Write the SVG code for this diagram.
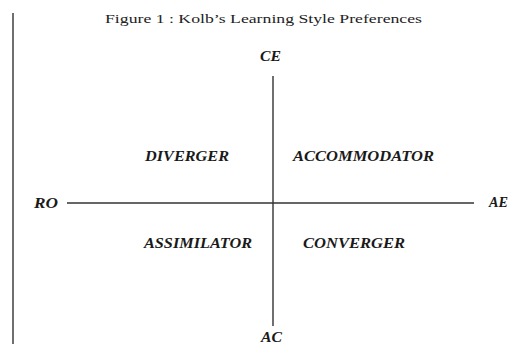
<svg xmlns="http://www.w3.org/2000/svg" width="515" height="344" viewBox="0 0 515 344">
<style>
.t{font-family:"Liberation Serif","Times New Roman",serif;fill:#222}
.lbl{font-family:"Liberation Serif","Times New Roman",serif;font-weight:bold;font-style:italic;font-size:15px;fill:#1a1a1a}
.ax{stroke:#333;stroke-width:1.4;fill:none}
</style>
<rect width="515" height="344" fill="#fff"/>
<text class="t" x="105" y="23" font-size="13" textLength="317" lengthAdjust="spacingAndGlyphs">Figure 1 : Kolb’s Learning Style Preferences</text>
<g id="connectors">
<line class="ax" x1="13" y1="13" x2="13" y2="344"/>
<line class="ax" x1="273" y1="76" x2="273" y2="326"/>
<line class="ax" x1="67" y1="203" x2="474" y2="203"/>
</g>
<g id="CE"><text class="lbl" x="260" y="61" textLength="21" lengthAdjust="spacingAndGlyphs">CE</text></g>
<g id="AC"><text class="lbl" x="261" y="342" textLength="21" lengthAdjust="spacingAndGlyphs">AC</text></g>
<g id="RO"><text class="lbl" x="34" y="208" textLength="24" lengthAdjust="spacingAndGlyphs">RO</text></g>
<g id="AE"><text class="lbl" x="489" y="207" textLength="19" lengthAdjust="spacingAndGlyphs">AE</text></g>
<g id="diverger"><text class="lbl" x="145" y="161" textLength="84" lengthAdjust="spacingAndGlyphs">DIVERGER</text></g>
<g id="accommodator"><text class="lbl" x="293" y="161" textLength="141" lengthAdjust="spacingAndGlyphs">ACCOMMODATOR</text></g>
<g id="assimilator"><text class="lbl" x="144" y="248" textLength="108" lengthAdjust="spacingAndGlyphs">ASSIMILATOR</text></g>
<g id="converger"><text class="lbl" x="303" y="248" textLength="102" lengthAdjust="spacingAndGlyphs">CONVERGER</text></g>
</svg>
